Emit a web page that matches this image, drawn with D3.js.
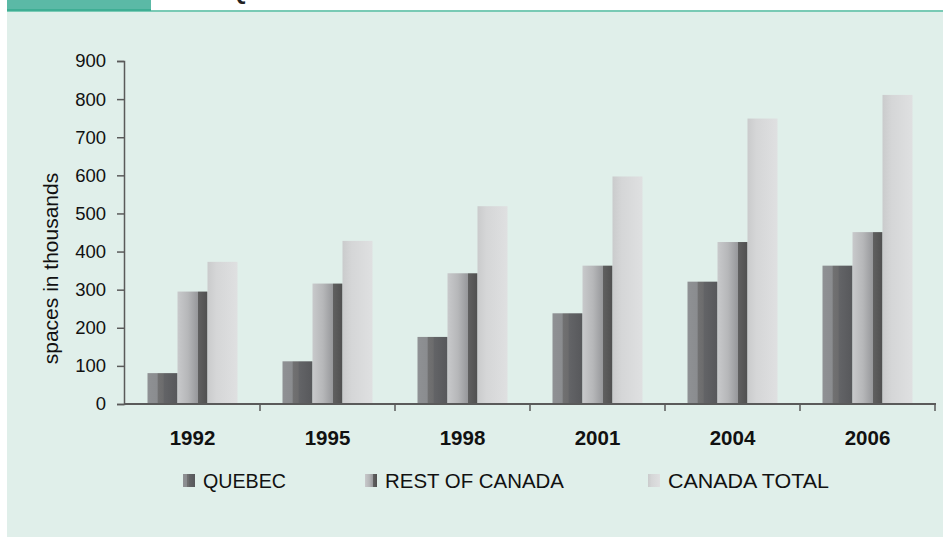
<!DOCTYPE html>
<html>
<head>
<meta charset="utf-8">
<script src="https://cdn.jsdelivr.net/npm/d3@7"></script>
<style>
  html, body { margin: 0; padding: 0; background: #fff; }
  svg { display: block; font-family: "Liberation Sans", Arial, sans-serif; }
</style>
</head>
<body>
<div id="container"></div>
<script>
'use strict';
(function() {
    // chart data
    var years = ['1992', '1995', '1998', '2001', '2004', '2006'];
    var series = ['QUEBEC', 'REST OF CANADA', 'CANADA TOTAL'];
    var quebec = [81, 112, 176, 238, 321, 363];
    var restOfCanada = [295, 316, 343, 363, 425, 451];
    var canadaTotal = [373, 428, 519, 597, 749, 811];
    var yTicks = [0, 100, 200, 300, 400, 500, 600, 700, 800, 900];
    var yTitle = 'spaces in thousands';

    var values = {
        'QUEBEC': quebec,
        'REST OF CANADA': restOfCanada,
        'CANADA TOTAL': canadaTotal
    };

    var W = 943, H = 537;
    var plot = {left: 124, right: 935, top: 61, bottom: 404};

    var svg = d3.select('#container').append('svg')
        .attr('width', W)
        .attr('height', H);

    // gradients for the bars
    var defs = svg.append('defs');
    var grads = {
        'QUEBEC': [[0, '#8f9194'], [0.33, '#8a8c8f'], [0.34, '#717172'], [0.53, '#6c6c6d'], [0.54, '#636467'], [1, '#57585b']],
        'REST OF CANADA': [[0, '#c8c9cb'], [0.35, '#b6b7b9'], [0.68, '#97989b'], [0.69, '#606060'], [1, '#505050']],
        'CANADA TOTAL': [[0, '#cacbcc'], [0.3, '#d5d6d7'], [1, '#dfe0e1']]
    };
    series.forEach(function(s, i) {
        var g = defs.append('linearGradient')
            .attr('id', 'grad' + i)
            .attr('x1', '0%').attr('x2', '100%')
            .attr('y1', '0%').attr('y2', '0%');
        grads[s].forEach(function(st) {
            g.append('stop').attr('offset', st[0]).attr('stop-color', st[1]);
        });
    });

    // frame: panel, top strip
    svg.append('rect')
        .attr('x', 7).attr('y', 11)
        .attr('width', W - 7).attr('height', 526)
        .attr('fill', '#e0efea');
    svg.append('rect')
        .attr('x', 7).attr('y', 0)
        .attr('width', 144).attr('height', 10)
        .attr('fill', '#5bb9a6');
    svg.append('rect')
        .attr('x', 7).attr('y', 10)
        .attr('width', W - 7).attr('height', 2)
        .attr('fill', '#79cab5');
    svg.append('rect')
        .attr('x', 7).attr('y', 9)
        .attr('width', 144).attr('height', 2)
        .attr('fill', '#3fae94');
    // cut-off title glyph at the very top
    svg.append('text')
        .attr('x', 229).attr('y', -1)
        .attr('font-size', 24)
        .attr('font-weight', 'bold')
        .attr('fill', '#222')
        .text('Q');

    // scales
    var x0 = d3.scaleBand()
        .domain(years)
        .range([plot.left + 1, plot.right]);
    var step = x0.step();
    var x1 = d3.scaleBand()
        .domain(series)
        .range([step / 6, step * 5 / 6]);
    var y = d3.scaleLinear()
        .domain([0, 900])
        .range([plot.bottom, plot.top]);

    // bars
    var groups = svg.selectAll('.yearGroup')
        .data(years)
        .enter().append('g')
        .attr('class', 'yearGroup')
        .attr('transform', function(d) { return 'translate(' + x0(d) + ',0)'; });

    groups.selectAll('rect')
        .data(function(d, i) {
            return series.map(function(s, k) {
                return {s: s, k: k, v: values[s][i]};
            });
        })
        .enter().append('rect')
        .attr('x', function(d) { return x1(d.s); })
        .attr('y', function(d) { return y(d.v); })
        .attr('width', x1.bandwidth())
        .attr('height', function(d) { return y(0) - y(d.v); })
        .attr('fill', function(d) { return 'url(#grad' + d.k + ')'; });

    // y axis
    var yAxis = d3.axisLeft(y)
        .tickValues(yTicks)
        .tickSize(7)
        .tickPadding(11);
    var gy = svg.append('g')
        .attr('class', 'yAxis')
        .attr('transform', 'translate(' + plot.left + ',0)')
        .call(yAxis);
    gy.select('.domain').attr('stroke', '#5a5a5a').attr('stroke-width', 1.5);
    gy.selectAll('.tick line').attr('stroke', '#5a5a5a').attr('stroke-width', 1.5);
    gy.selectAll('.tick text')
        .attr('font-size', 18.5)
        .attr('font-family', '"Liberation Sans", Arial, sans-serif')
        .attr('fill', '#111');

    // x axis: ticks at category boundaries
    svg.append('line')
        .attr('x1', plot.left).attr('x2', plot.right + 1)
        .attr('y1', y(0)).attr('y2', y(0))
        .attr('stroke', '#5a5a5a').attr('stroke-width', 2);
    svg.selectAll('.xTick')
        .data(years)
        .enter().append('line')
        .attr('class', 'xTick')
        .attr('x1', function(d) { return x0(d) + step; })
        .attr('x2', function(d) { return x0(d) + step; })
        .attr('y1', y(0)).attr('y2', y(0) + 7)
        .attr('stroke', '#5a5a5a').attr('stroke-width', 1.5);
    svg.selectAll('.xLabel')
        .data(years)
        .enter().append('text')
        .attr('class', 'xLabel')
        .attr('x', function(d) { return x0(d) + step / 2; })
        .attr('y', 445)
        .attr('text-anchor', 'middle')
        .attr('font-size', 20.5)
        .attr('font-weight', 'bold')
        .attr('fill', '#111')
        .text(function(d) { return d; });

    // axis title
    svg.append('text')
        .attr('transform', 'translate(58,' + ((plot.top + plot.bottom) / 2 + 36) + ') rotate(-90)')
        .attr('text-anchor', 'middle')
        .attr('font-size', 21)
        .attr('fill', '#111')
        .text(yTitle);

    // legend
    var legendX = [183, 365, 648];
    var legendLen = [83, 179, 161];
    var legend = svg.selectAll('.legendItem')
        .data(series)
        .enter().append('g')
        .attr('class', 'legendItem')
        .attr('transform', function(d, i) { return 'translate(' + legendX[i] + ',474)'; });
    legend.append('rect')
        .attr('width', 12).attr('height', 13)
        .attr('fill', function(d, i) { return 'url(#grad' + i + ')'; });
    legend.append('text')
        .attr('x', 20).attr('y', 14)
        .attr('font-size', 21)
        .attr('fill', '#111')
        .attr('textLength', function(d, i) { return legendLen[i]; })
        .attr('lengthAdjust', 'spacingAndGlyphs')
        .text(function(d) { return d; });
})();
</script>
</body>
</html>
